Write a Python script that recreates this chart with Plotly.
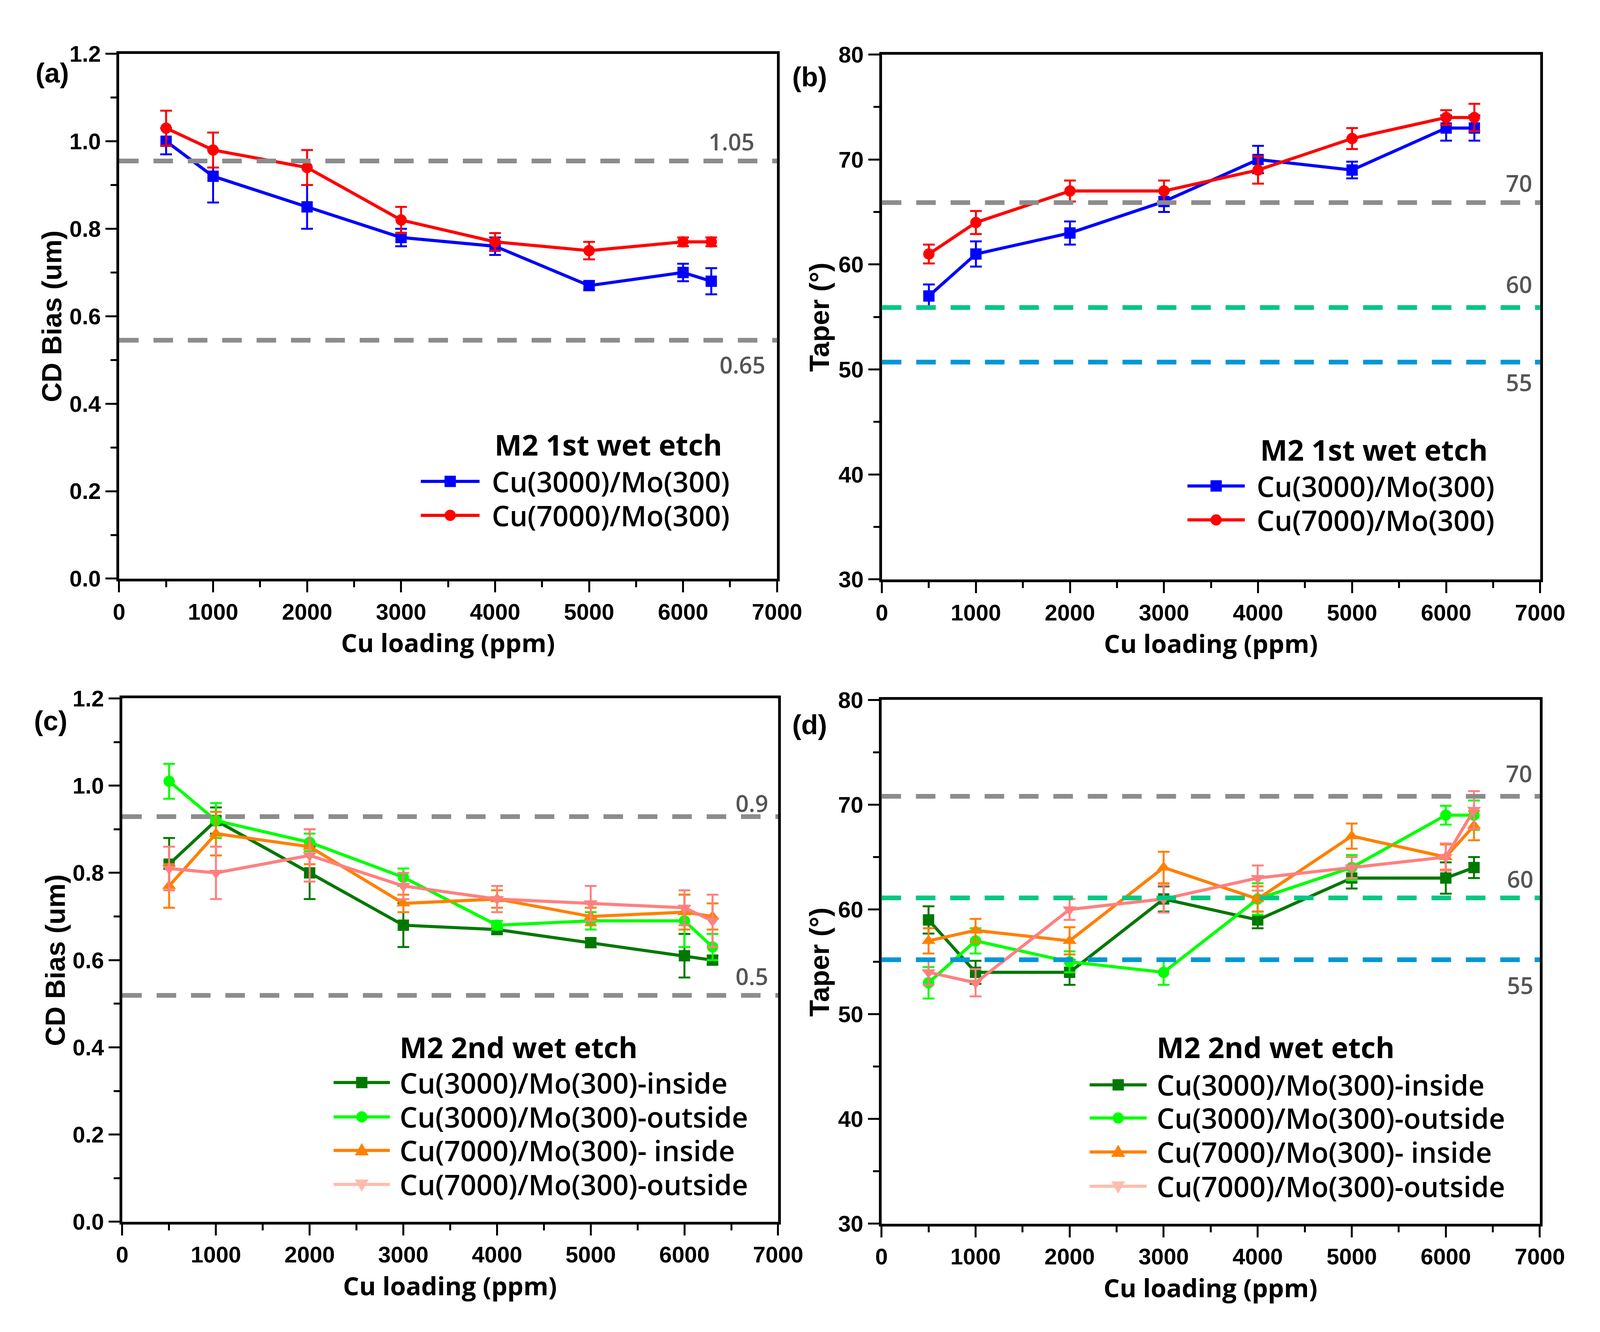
import plotly.graph_objects as go

# reference canvas in pixels; everything below is placed as a fraction of it
W, H = 4442, 3409

# ------------------------------------------------------------------
# data
# ------------------------------------------------------------------
cu_loading = [500, 1000, 2000, 3000, 4000, 5000, 6000, 6300]

# (a) CD bias, M2 1st wet etch
bias1_cu3000 = [1.00, 0.92, 0.85, 0.78, 0.76, 0.67, 0.70, 0.68]
bias1_cu3000_err = [0.03, 0.06, 0.05, 0.02, 0.02, 0.01, 0.02, 0.03]
bias1_cu7000 = [1.03, 0.98, 0.94, 0.82, 0.77, 0.75, 0.77, 0.77]
bias1_cu7000_err = [0.04, 0.04, 0.04, 0.03, 0.02, 0.02, 0.01, 0.01]

# (b) taper, M2 1st wet etch
taper1_cu3000 = [57, 61, 63, 66, 70, 69, 73, 73]
taper1_cu3000_err = [1.1, 1.2, 1.1, 1.0, 1.3, 0.8, 1.2, 1.2]
taper1_cu7000 = [61, 64, 67, 67, 69, 72, 74, 74]
taper1_cu7000_err = [0.9, 1.1, 1.0, 1.0, 1.3, 1.0, 0.7, 1.3]

# (c) CD bias, M2 2nd wet etch
bias2_cu3000_in = [0.82, 0.92, 0.80, 0.68, 0.67, 0.64, 0.61, 0.60]
bias2_cu3000_in_err = [0.06, 0.03, 0.06, 0.05, 0.01, 0.01, 0.05, 0.01]
bias2_cu3000_out = [1.01, 0.92, 0.87, 0.79, 0.68, 0.69, 0.69, 0.63]
bias2_cu3000_out_err = [0.04, 0.04, 0.02, 0.02, 0.01, 0.02, 0.06, 0.03]
bias2_cu7000_in = [0.77, 0.89, 0.86, 0.73, 0.74, 0.70, 0.71, 0.70]
bias2_cu7000_in_err = [0.05, 0.05, 0.04, 0.02, 0.02, 0.02, 0.04, 0.03]
bias2_cu7000_out = [0.81, 0.80, 0.84, 0.77, 0.74, 0.73, 0.72, 0.69]
bias2_cu7000_out_err = [0.05, 0.06, 0.06, 0.03, 0.03, 0.04, 0.04, 0.06]

# (d) taper, M2 2nd wet etch
taper2_cu3000_in = [59, 54, 54, 61, 59, 63, 63, 64]
taper2_cu3000_in_err = [1.3, 1.1, 1.2, 1.2, 0.8, 1.0, 1.5, 1.0]
taper2_cu3000_out = [53, 57, 55, 54, 61, 64, 69, 69]
taper2_cu3000_out_err = [1.5, 1.2, 1.0, 1.2, 1.5, 1.2, 0.9, 1.4]
taper2_cu7000_in = [57, 58, 57, 64, 61, 67, 65, 68]
taper2_cu7000_in_err = [1.2, 1.1, 1.3, 1.5, 1.2, 1.2, 1.2, 1.4]
taper2_cu7000_out = [54, 53, 60, 61, 63, 64, 65, 69.5]
taper2_cu7000_out_err = [1.2, 1.3, 1.0, 1.3, 1.2, 1.0, 1.3, 1.8]

# spec lines and their printed labels
spec_a = [0.955, 0.545]
spec_a_labels = ['1.05', '0.65']
spec_b = [65.9, 55.9, 50.7]
spec_b_labels = ['70', '60', '55']
spec_c = [0.929, 0.519]
spec_c_labels = ['0.9', '0.5']
spec_d = [70.8, 61.1, 55.2]
spec_d_labels = ['70', '60', '55']

x_ticks = [0, 1000, 2000, 3000, 4000, 5000, 6000, 7000]

# ------------------------------------------------------------------
# styling
# ------------------------------------------------------------------
BLUE = '#0000ff'
RED = '#ff0000'
DKGREEN = '#007800'
LTGREEN = '#00ff00'
ORANGE = '#ff8000'
PINK = '#ff8080'
PINK_LEG = '#ffbcae'
GRAY = '#8c8c8c'
SPEC_GREEN = '#00c882'
SPEC_BLUE = '#0096d6'

TICK_FONT = dict(family='Liberation Sans', size=58, color='black', weight='bold')
TITLE_FONT = dict(family='Liberation Sans', size=70, color='black', weight='bold')
XTITLE_FONT = dict(family='Open Sans', size=65, color='black', weight='bold')
LEG_FONT = dict(family='Open Sans', size=72, color='black', weight=600)
LEGT_FONT = dict(family='Open Sans', size=74, color='black', weight='bold')
SPEC_FONT = dict(family='Open Sans', size=59, color='#555555', weight=600)


def px_x(p):
    return p / W


def px_y(p):
    return 1 - p / H


def note(text, px, py, font, **kw):
    d = dict(text=text, x=px_x(px), y=px_y(py), xref='paper', yref='paper',
             xanchor='center', yanchor='middle', showarrow=False, font=font)
    d.update(kw)
    return d


# plot boxes in pixels: left, right, top, bottom
boxes = {
    1: (312, 2183, 99, 1475),
    2: (2481, 4353, 101, 1477),
    3: (321, 2186, 1789, 3161),
    4: (2480, 4352, 1793, 3166),
}

fig = go.Figure()


def add_series(n, y, err, color, symbol, size):
    sfx = '' if n == 1 else str(n)
    fig.add_trace(go.Scatter(
        x=cu_loading, y=y,
        mode='lines+markers',
        line=dict(color=color, width=8),
        marker=dict(symbol=symbol, size=size, color=color),
        error_y=dict(type='data', array=err, color=color, thickness=5, width=15),
        xaxis='x' + sfx, yaxis='y' + sfx,
        showlegend=False,
    ))


add_series(1, bias1_cu3000, bias1_cu3000_err, BLUE, 'square', 29)
add_series(1, bias1_cu7000, bias1_cu7000_err, RED, 'circle', 29)
add_series(2, taper1_cu3000, taper1_cu3000_err, BLUE, 'square', 29)
add_series(2, taper1_cu7000, taper1_cu7000_err, RED, 'circle', 29)
add_series(3, bias2_cu3000_in, bias2_cu3000_in_err, DKGREEN, 'square', 29)
add_series(3, bias2_cu3000_out, bias2_cu3000_out_err, LTGREEN, 'circle', 29)
add_series(3, bias2_cu7000_in, bias2_cu7000_in_err, ORANGE, 'triangle-up', 31)
add_series(3, bias2_cu7000_out, bias2_cu7000_out_err, PINK, 'triangle-down', 31)
add_series(4, taper2_cu3000_in, taper2_cu3000_in_err, DKGREEN, 'square', 29)
add_series(4, taper2_cu3000_out, taper2_cu3000_out_err, LTGREEN, 'circle', 29)
add_series(4, taper2_cu7000_in, taper2_cu7000_in_err, ORANGE, 'triangle-up', 31)
add_series(4, taper2_cu7000_out, taper2_cu7000_out_err, PINK, 'triangle-down', 31)


def axis_pair(n, yrange, ydtick, yminor, yfmt):
    l, r, t, b = boxes[n]
    common = dict(showline=True, linecolor='black', linewidth=7, mirror=True,
                  ticks='outside', ticklen=28, tickwidth=5, tickcolor='black',
                  showgrid=False, zeroline=False, tickfont=TICK_FONT)
    xa = dict(common, domain=[px_x(l), px_x(r)], range=[0, 7000],
              tickvals=x_ticks, anchor='y' if n == 1 else 'y' + str(n),
              minor=dict(dtick=500, ticks='outside', ticklen=15, tickwidth=5,
                         tickcolor='black', showgrid=False))
    ya = dict(common, domain=[px_y(b), px_y(t)], range=yrange, dtick=ydtick,
              tick0=yrange[0], tickformat=yfmt,
              anchor='x' if n == 1 else 'x' + str(n),
              minor=dict(dtick=yminor, ticks='outside', ticklen=15, tickwidth=5,
                         tickcolor='black', showgrid=False))
    return xa, ya


layout_axes = {}
for n, yr, dt, mn, fmt in [(1, [0, 1.2], 0.2, 0.1, '.1f'),
                           (2, [30, 80], 10, 5, 'd'),
                           (3, [0, 1.2], 0.2, 0.1, '.1f'),
                           (4, [30, 80], 10, 5, 'd')]:
    xa, ya = axis_pair(n, yr, dt, mn, fmt)
    sfx = '' if n == 1 else str(n)
    layout_axes['xaxis' + sfx] = xa
    layout_axes['yaxis' + sfx] = ya

shapes = []
annotations = []

# spec (dashed) lines
for n, vals, cols in [(1, spec_a, [GRAY, GRAY]),
                      (2, spec_b, [GRAY, SPEC_GREEN, SPEC_BLUE]),
                      (3, spec_c, [GRAY, GRAY]),
                      (4, spec_d, [GRAY, SPEC_GREEN, SPEC_BLUE])]:
    sfx = '' if n == 1 else str(n)
    for v, c in zip(vals, cols):
        shapes.append(dict(type='line', xref='x' + sfx + ' domain', yref='y' + sfx,
                           x0=0, x1=1, y0=v, y1=v,
                           line=dict(color=c, width=12, dash='50px,38px')))

# spec labels (pixel centres)
spec_label_pos = [
    (spec_a_labels, [(2053, 329), (2084, 914)]),
    (spec_b_labels, [(4293, 437), (4293, 703), (4293, 960)]),
    (spec_c_labels, [(2112, 2063), (2112, 2517)]),
    (spec_d_labels, [(4293, 1985), (4296, 2262), (4296, 2540)]),
]
for labels, pos in spec_label_pos:
    for txt, (px, py) in zip(labels, pos):
        annotations.append(note(txt, px, py, SPEC_FONT))

# panel letters
for txt, (px, py) in [('(a)', (122, 150)), ('(b)', (2275, 160)),
                      ('(c)', (118, 1848)), ('(d)', (2275, 1858))]:
    annotations.append(note(txt, px, py, TITLE_FONT))

# axis titles
for n, ytxt, ytx in [(1, 'CD Bias (um)', 121), (2, 'Taper (°)', 2304),
                     (3, 'CD Bias (um)', 131), (4, 'Taper (°)', 2303)]:
    l, r, t, b = boxes[n]
    annotations.append(note('Cu loading (ppm)', (l + r) / 2, b + 167, XTITLE_FONT))
    annotations.append(note(ytxt, ytx, (t + b) / 2, TITLE_FONT, textangle=-90))


# hand-drawn legends (line swatch + marker + label)
def marker_shape(symbol, cx, cy, color):
    base = dict(xref='paper', yref='paper', xsizemode='pixel', ysizemode='pixel',
                xanchor=px_x(cx), yanchor=px_y(cy), fillcolor=color,
                line=dict(color=color, width=1))
    if symbol == 'square':
        return dict(base, type='rect', x0=-14, x1=14, y0=-14, y1=14)
    if symbol == 'circle':
        return dict(base, type='circle', x0=-14, x1=14, y0=-14, y1=14)
    if symbol == 'triangle-up':
        return dict(base, type='path', path='M-17,-12 L17,-12 L0,18 Z')
    return dict(base, type='path', path='M-17,12 L17,12 L0,-18 Z')


legends = [
    dict(title='M2 1st wet etch', title_pos=(1377, 1123), sw=(1170, 1337), text_x=1370,
         rows=[1220, 1309],
         items=[('Cu(3000)/Mo(300)', BLUE, 'square'), ('Cu(7000)/Mo(300)', RED, 'circle')]),
    dict(title='M2 1st wet etch', title_pos=(3555, 1136), sw=(3350, 3513), text_x=3545,
         rows=[1232, 1321],
         items=[('Cu(3000)/Mo(300)', BLUE, 'square'), ('Cu(7000)/Mo(300)', RED, 'circle')]),
    dict(title='M2 2nd wet etch', title_pos=(1107, 2702), sw=(922, 1082), text_x=1107,
         rows=[2796, 2886, 2974, 3063],
         items=[('Cu(3000)/Mo(300)-inside', DKGREEN, 'square'),
                ('Cu(3000)/Mo(300)-outside', LTGREEN, 'circle'),
                ('Cu(7000)/Mo(300)- inside', ORANGE, 'triangle-up'),
                ('Cu(7000)/Mo(300)-outside', PINK_LEG, 'triangle-down')]),
    dict(title='M2 2nd wet etch', title_pos=(3260, 2702), sw=(3072, 3234), text_x=3260,
         rows=[2802, 2889, 2978, 3068],
         items=[('Cu(3000)/Mo(300)-inside', DKGREEN, 'square'),
                ('Cu(3000)/Mo(300)-outside', LTGREEN, 'circle'),
                ('Cu(7000)/Mo(300)- inside', ORANGE, 'triangle-up'),
                ('Cu(7000)/Mo(300)-outside', PINK_LEG, 'triangle-down')]),
]

for lg in legends:
    tx, ty = lg['title_pos']
    annotations.append(note(lg['title'], tx, ty, LEGT_FONT, xanchor='left', height=86))
    x0, x1 = lg['sw']
    for (txt, col, sym), ry in zip(lg['items'], lg['rows']):
        shapes.append(dict(type='line', xref='paper', yref='paper',
                           x0=px_x(x0), x1=px_x(x1), y0=px_y(ry), y1=px_y(ry),
                           line=dict(color=col, width=8)))
        shapes.append(marker_shape(sym, (x0 + x1) / 2, ry, col))
        annotations.append(note(txt, lg['text_x'], ry, LEG_FONT, xanchor='left', height=82))

# no fixed width/height: the figure fills the browser window
fig.update_layout(
    margin=dict(l=0, r=0, t=0, b=0),
    paper_bgcolor='white', plot_bgcolor='white',
    showlegend=False,
    shapes=shapes,
    annotations=annotations,
    **layout_axes,
)

fig.write_html('out.html')
